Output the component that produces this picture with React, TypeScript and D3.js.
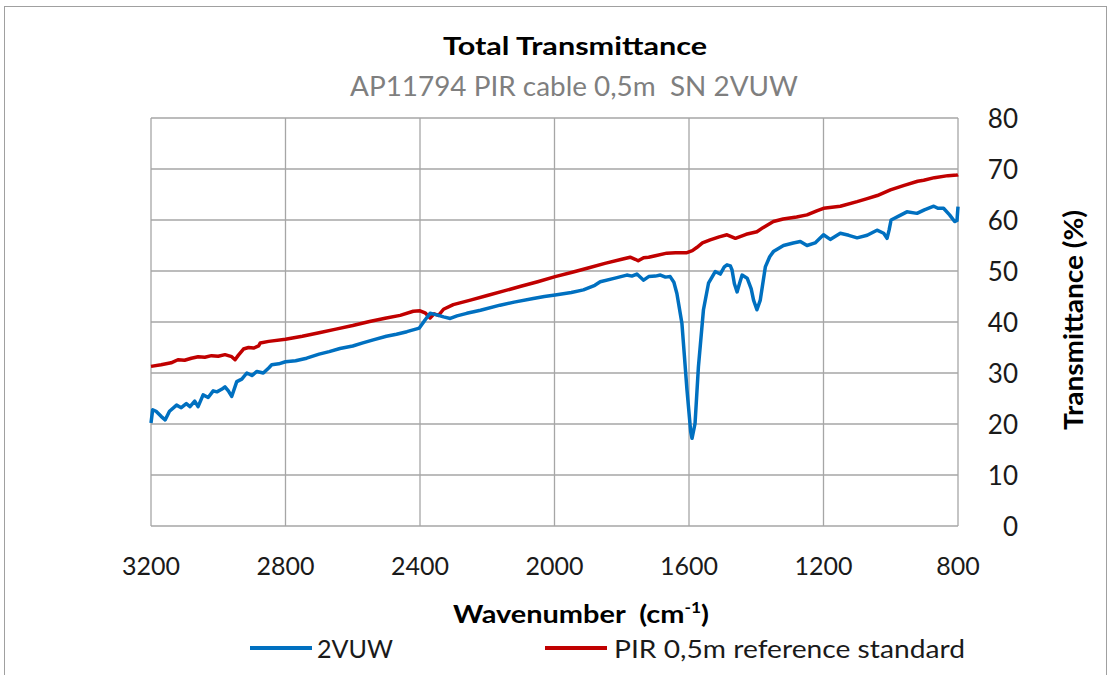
import React from "react";
import * as d3 from "d3";

const blueW = [3200,3195,3185,3170,3158,3145,3124,3110,3095,3084,3070,3060,3045,3030,3015,3004,2990,2980,2970,2960,2945,2930,2915,2900,2885,2866,2850,2841,2820,2800,2770,2737,2700,2670,2638,2600,2570,2539,2500,2470,2439,2402,2385,2370,2350,2330,2310,2290,2261,2220,2162,2120,2063,2030,1998,1950,1914,1880,1864,1820,1785,1770,1755,1735,1720,1700,1685,1670,1656,1645,1636,1621,1606,1595,1591,1582,1572,1557,1542,1522,1507,1495,1487,1477,1472,1465,1457,1450,1442,1427,1415,1408,1398,1388,1373,1360,1349,1319,1290,1269,1249,1225,1200,1180,1150,1125,1100,1070,1041,1021,1011,1005,999,975,952,922,900,872,860,843,825,810,803,800];
const blueV = [20.2,22.8,22.5,21.5,20.8,22.5,23.7,23.2,24.0,23.4,24.5,23.4,25.7,25.2,26.5,26.3,26.8,27.3,26.5,25.4,28.3,28.8,30.0,29.5,30.3,30.0,31.0,31.6,31.8,32.2,32.4,32.9,33.7,34.2,34.8,35.3,35.9,36.5,37.2,37.6,38.1,38.8,40.4,41.7,41.4,41.0,40.7,41.2,41.7,42.3,43.3,43.9,44.6,45.0,45.3,45.8,46.3,47.2,47.9,48.6,49.2,49.0,49.4,48.2,48.9,49.0,49.2,48.8,48.9,47.8,45.6,39.7,26.7,18.5,17.2,20.1,31.2,42.4,47.6,49.9,49.4,50.8,51.2,51.0,50.2,47.5,45.9,47.5,49.2,48.6,46.5,44.3,42.4,44.3,50.8,52.8,53.8,55.0,55.5,55.8,55.0,55.5,57.1,56.2,57.4,57.0,56.5,57.0,58.0,57.4,56.4,58.0,60.0,60.8,61.6,61.3,62.0,62.7,62.3,62.3,61.0,59.7,59.9,62.6];

const redW = [3200,3170,3140,3120,3100,3080,3060,3040,3020,3000,2980,2960,2950,2940,2925,2910,2895,2880,2875,2850,2800,2750,2700,2650,2600,2550,2500,2459,2420,2400,2385,2370,2358,2345,2330,2301,2250,2200,2150,2100,2050,1998,1950,1900,1850,1800,1775,1760,1751,1735,1720,1700,1666,1640,1606,1590,1577,1560,1537,1510,1487,1462,1430,1398,1380,1349,1320,1280,1249,1220,1200,1150,1100,1070,1040,1001,960,920,902,870,830,803,800];
const redV = [31.3,31.6,32.0,32.6,32.5,32.9,33.2,33.1,33.4,33.3,33.6,33.2,32.6,33.5,34.7,35.0,34.9,35.3,35.9,36.2,36.6,37.2,37.9,38.6,39.3,40.1,40.8,41.3,42.1,42.2,41.8,40.8,41.6,41.3,42.5,43.4,44.3,45.2,46.1,47.0,47.9,48.9,49.7,50.6,51.5,52.3,52.7,52.3,52.0,52.6,52.7,53.0,53.5,53.6,53.6,54.0,54.6,55.5,56.1,56.7,57.1,56.4,57.2,57.7,58.5,59.7,60.2,60.6,61.0,61.8,62.3,62.7,63.6,64.2,64.8,65.9,66.8,67.6,67.8,68.3,68.7,68.8,68.9];

const xTicks = [3200, 2800, 2400, 2000, 1600, 1200, 800];
const yTicks = [0, 10, 20, 30, 40, 50, 60, 70, 80];

const seriesNames = ["2VUW", "PIR 0,5m reference standard"];
const seriesColors = ["#0070C0", "#C00000"];

const FONT = "Lato, 'Open Sans', sans-serif";
const TXT = "#1a1a1a";

export default function App() {
  const left = 151, right = 958, top = 118, bottom = 526;
  const x = d3.scaleLinear().domain([3200, 800]).range([left, right]);
  const y = d3.scaleLinear().domain([0, 80]).range([bottom, top]);
  const line = d3.line<[number, number]>().x(d => x(d[0])).y(d => y(d[1]));
  const blue = line(blueW.map((w, i) => [w, blueV[i]]) as [number, number][]) || "";
  const red = line(redW.map((w, i) => [w, redV[i]]) as [number, number][]) || "";
  const grid = "#a6a6a6";
  const adj = "spacingAndGlyphs";
  return (
    <svg width={1109} height={675} style={{ position: "absolute", left: 0, top: 0, background: "#fff" }}>
      <rect x={4.5} y={6.5} width={1102} height={690} fill="#fff" stroke="#a0a0a0" strokeWidth={1} />
      {yTicks.map(t => (
        <line key={"gy" + t} x1={left} x2={right} y1={y(t)} y2={y(t)} stroke={grid} strokeWidth={1.3} />
      ))}
      {xTicks.map(t => (
        <line key={"gx" + t} x1={x(t)} x2={x(t)} y1={top} y2={bottom} stroke={grid} strokeWidth={1.3} />
      ))}
      <path d={red} fill="none" stroke={seriesColors[1]} strokeWidth={3.5} strokeLinejoin="round" />
      <path d={blue} fill="none" stroke={seriesColors[0]} strokeWidth={3.5} strokeLinejoin="round" />
      {yTicks.map(t => (
        <text key={"ty" + t} x={1018} y={y(t) + 9.5} textAnchor="end" fontFamily={FONT} fontSize={26} fill={TXT}>{t}</text>
      ))}
      {xTicks.map(t => (
        <text key={"tx" + t} x={x(t)} y={575} textAnchor="middle" fontFamily={FONT} fontSize={25} fill={TXT}>{t}</text>
      ))}
      <text x={443} y={55} fontFamily={FONT} fontWeight="bold" fontSize={25} fill="#000" textLength={264} lengthAdjust={adj}>Total Transmittance</text>
      <text x={350} y={96} fontFamily={FONT} fontSize={27} fill="#7f7f7f" textLength={448} lengthAdjust={adj} xmlSpace="preserve">AP11794 PIR cable 0,5m  SN 2VUW</text>
      <text transform="translate(1083,430) rotate(-90)" fontFamily={FONT} fontWeight="bold" fontSize={27} fill="#000" textLength={220} lengthAdjust={adj}>Transmittance (%)</text>
      <text x={453} y={623} fontFamily={FONT} fontWeight="bold" fontSize={25} fill="#000" xmlSpace="preserve" textLength={256} lengthAdjust={adj}>
        Wavenumber  (cm<tspan fontSize={15} dy={-10}>-1</tspan><tspan dy={10}>)</tspan>
      </text>
      <line x1={250} x2={312} y1={648} y2={648} stroke={seriesColors[0]} strokeWidth={4} />
      <text x={317} y={658} fontFamily={FONT} fontSize={25} fill={TXT} textLength={76} lengthAdjust={adj}>{seriesNames[0]}</text>
      <line x1={545} x2={607} y1={648} y2={648} stroke={seriesColors[1]} strokeWidth={4} />
      <text x={614} y={658} fontFamily={FONT} fontSize={25} fill={TXT} textLength={351} lengthAdjust={adj}>{seriesNames[1]}</text>
    </svg>
  );
}
